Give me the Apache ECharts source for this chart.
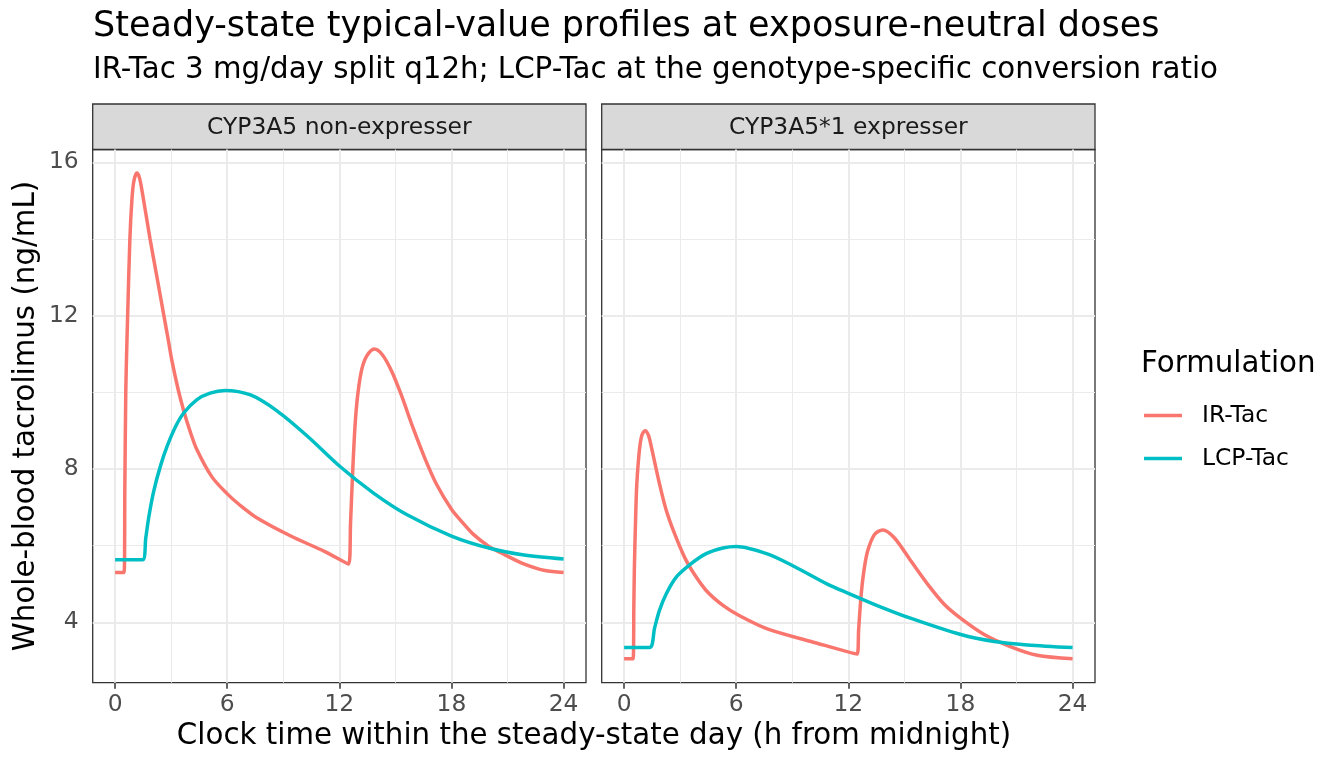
<!DOCTYPE html>
<html>
<head>
<meta charset="utf-8">
<script src="https://cdn.jsdelivr.net/npm/echarts@6/dist/echarts.min.js"></script>
<style>
html, body { margin: 0; padding: 0; background: #fff; }
#chart { width: 1344px; height: 768px; }
</style>
</head>
<body>
<div id="chart"></div>
<script>
// hours from midnight -> ng/mL
var irNonHours = [0, 0.48, 0.52, 0.57, 0.62, 0.67, 0.79, 0.9, 1.0, 1.16, 1.3, 1.46, 1.87, 2.24, 2.61, 2.85, 3.05, 3.37, 3.67, 4.0, 4.38, 5.17, 5.96, 6.67, 7.6, 9.4, 11.2, 12.5,
    12.6, 12.72, 12.85, 13.0, 13.2, 13.47, 13.87, 14.3, 14.8, 15.3, 15.96, 16.6, 17.2, 18.0, 18.6, 19.16, 20.0, 20.7, 21.8, 23.0, 24.0];
var irNonConc = [5.3, 5.3, 7.5, 10.0, 11.1, 12.0, 14.0, 15.03, 15.5, 15.72, 15.6, 15.2, 14.0, 13.0, 12.0, 11.35, 10.8, 10.08, 9.52, 9.0, 8.5, 7.8, 7.37, 7.06, 6.72, 6.25, 5.85, 5.52,
    6.6, 8.0, 9.2, 10.0, 10.6, 10.95, 11.13, 10.98, 10.55, 9.95, 9.05, 8.25, 7.6, 6.95, 6.6, 6.3, 5.98, 5.8, 5.54, 5.35, 5.3];

var lcpNonHours = [0, 1.47, 1.64, 1.82, 2.08, 2.44, 2.79, 3.23, 3.67, 4.38, 5.08, 5.87, 7.25, 8.68, 10.28, 12.02, 13.83, 15.6, 18.0, 20.05, 21.8, 24.0];
var lcpNonConc = [5.63, 5.63, 6.2, 6.8, 7.45, 8.1, 8.6, 9.1, 9.46, 9.81, 9.98, 10.05, 9.93, 9.51, 8.86, 8.07, 7.37, 6.81, 6.25, 5.93, 5.76, 5.65];

var irExpHours = [0, 0.48, 0.52, 0.55, 0.62, 0.68, 0.82, 0.95, 1.13, 1.3, 1.45, 1.89, 2.25, 2.7, 3.23, 3.68, 4.39, 5.29, 6.18, 7.7, 10.0, 12.47,
    12.55, 12.69, 12.85, 13.04, 13.4, 13.84, 14.47, 15.36, 16.25, 17.13, 18.02, 19.27, 20.7, 22.1, 24.0];
var irExpConc = [3.05, 3.05, 4.4, 5.44, 6.8, 7.62, 8.5, 8.88, 9.0, 8.88, 8.59, 7.62, 6.93, 6.31, 5.7, 5.31, 4.83, 4.44, 4.17, 3.82, 3.5, 3.17,
    3.8, 4.75, 5.4, 5.87, 6.29, 6.41, 6.2, 5.59, 4.99, 4.47, 4.1, 3.68, 3.36, 3.14, 3.05];

var lcpExpHours = [0, 1.36, 1.63, 1.89, 2.25, 2.79, 3.59, 4.39, 5.29, 6.0, 7.7, 9.13, 10.9, 12.03, 13.58, 15.36, 18.02, 19.8, 21.58, 24.0];
var lcpExpConc = [3.34, 3.34, 3.85, 4.31, 4.74, 5.18, 5.53, 5.79, 5.94, 5.98, 5.78, 5.45, 4.99, 4.75, 4.43, 4.1, 3.68, 3.5, 3.41, 3.34];

var xTicks = [0, 6, 12, 18, 24];
var xMinor = [3, 9, 15, 21];
var yTicks = [4, 8, 12, 16];
var yMinor = [6, 10, 14];

var panelNames = ['CYP3A5 non-expresser', 'CYP3A5*1 expresser'];
var formulations = ['IR-Tac', 'LCP-Tac'];
var colors = ['#F8766D', '#00BFC4'];

var FONT = '"DejaVu Sans", "Noto Sans", sans-serif';
var panels = [{ left: 92.7 }, { left: 601.7 }];
var panelTop = 149.5, panelW = 493.3, panelH = 533.2;

drawChart();

function drawChart() {
    var myChart = echarts.init(document.getElementById('chart'), null, { renderer: 'canvas' });

    var grids = [], xAxes = [], yAxes = [], graphic = [];
    panels.forEach(function(p, i) {
        grids.push({
            left: p.left, top: panelTop, width: panelW, height: panelH,
            containLabel: false, outerBoundsMode: 'none',
            show: true, backgroundColor: '#fff', borderColor: '#333333', borderWidth: 1.3
        });
        xAxes.push({
            type: 'value', gridIndex: i, min: -1.2, max: 25.2,
            axisLine: { show: false },
            axisTick: { show: true, customValues: xTicks, length: 6, lineStyle: { color: '#333333', width: 1.5 } },
            axisLabel: { show: true, customValues: xTicks, margin: 11, color: '#4d4d4d', fontSize: 23.4, fontFamily: FONT },
            splitLine: { show: false }
        });
        yAxes.push({
            type: 'value', gridIndex: i, min: 2.424, max: 16.334,
            axisLine: { show: false },
            axisTick: { show: i == 0, customValues: yTicks, length: 6, lineStyle: { color: '#333333', width: 1.5 } },
            axisLabel: { show: i == 0, customValues: yTicks, margin: 14, color: '#4d4d4d', fontSize: 23.4, fontFamily: FONT },
            splitLine: { show: false }
        });
        // strip on top of each panel
        graphic.push({
            type: 'rect', shape: { x: p.left, y: 104, width: panelW, height: 45.5 },
            style: { fill: '#d9d9d9', stroke: '#333333', lineWidth: 1.3 }
        });
        graphic.push({
            type: 'text', x: p.left + panelW / 2, y: 127.6,
            style: { text: panelNames[i], fontSize: 23.4, fontFamily: FONT, fill: '#1a1a1a', align: 'center', verticalAlign: 'middle' }
        });
    });

    graphic.push({
        type: 'text', x: 93, y: 27.2,
        style: { text: 'Steady-state typical-value profiles at exposure-neutral doses', fontSize: 35, fontFamily: FONT, fill: '#000', align: 'left', verticalAlign: 'middle' }
    });
    graphic.push({
        type: 'text', x: 93, y: 70,
        style: { text: 'IR-Tac 3 mg/day split q12h; LCP-Tac at the genotype-specific conversion ratio', fontSize: 29.3, fontFamily: FONT, fill: '#000', align: 'left', verticalAlign: 'middle' }
    });
    graphic.push({
        type: 'text', x: 594, y: 736,
        style: { text: 'Clock time within the steady-state day (h from midnight)', fontSize: 29.3, fontFamily: FONT, fill: '#000', align: 'center', verticalAlign: 'middle' }
    });
    graphic.push({
        type: 'text', x: 26.6, y: 416, rotation: Math.PI / 2,
        style: { text: 'Whole-blood tacrolimus (ng/mL)', fontSize: 29.3, fontFamily: FONT, fill: '#000', align: 'center', verticalAlign: 'middle' }
    });
    graphic.push({
        type: 'text', x: 1141, y: 364.2,
        style: { text: 'Formulation', fontSize: 29.3, fontFamily: FONT, fill: '#000', align: 'left', verticalAlign: 'middle' }
    });

    var series = [
        lineSeries(0, 0, irNonHours, irNonConc, true),
        lineSeries(1, 0, lcpNonHours, lcpNonConc, false),
        lineSeries(0, 1, irExpHours, irExpConc, true),
        lineSeries(1, 1, lcpExpHours, lcpExpConc, false)
    ];

    var option = {
        animation: false,
        backgroundColor: '#fff',
        textStyle: { fontFamily: FONT },
        grid: grids,
        xAxis: xAxes,
        yAxis: yAxes,
        legend: {
            data: formulations,
            orient: 'vertical',
            left: 1144, top: 404,
            itemWidth: 38, itemHeight: 20, itemGap: 20,
            padding: 0,
            icon: 'path://M0,8.3 L38,8.3 L38,11.7 L0,11.7 Z',
            textStyle: { fontSize: 23.4, fontFamily: FONT, color: '#000', padding: [0, 0, 0, 15] }
        },
        graphic: graphic,
        series: series
    };
    myChart.setOption(option);
}

function lineSeries(f, panel, hours, conc, withGrid) {
    var s = {
        name: formulations[f],
        type: 'line',
        xAxisIndex: panel,
        yAxisIndex: panel,
        data: hours.map(function(h, i) { return [h, conc[i]]; }),
        symbol: 'none',
        smooth: 0.3,
        color: colors[f],
        itemStyle: { color: colors[f] },
        lineStyle: { color: colors[f], width: 3.5 },
        z: 3
    };
    if (withGrid) {
        // panel grid lines (ggplot style), drawn under the curves
        var lines = [];
        xMinor.forEach(function(v) { lines.push({ xAxis: v, lineStyle: { color: '#ebebeb', width: 1 } }); });
        yMinor.forEach(function(v) { lines.push({ yAxis: v, lineStyle: { color: '#ebebeb', width: 1 } }); });
        xTicks.forEach(function(v) { lines.push({ xAxis: v, lineStyle: { color: '#ebebeb', width: 2 } }); });
        yTicks.forEach(function(v) { lines.push({ yAxis: v, lineStyle: { color: '#ebebeb', width: 2 } }); });
        s.markLine = {
            silent: true, z: 1, symbol: ['none', 'none'], animation: false,
            label: { show: false },
            emphasis: { disabled: true },
            lineStyle: { type: 'solid' },
            data: lines
        };
    }
    return s;
}
</script>
</body>
</html>
